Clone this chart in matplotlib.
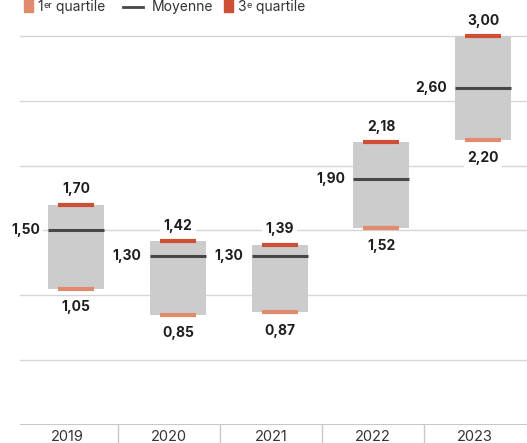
#!/usr/bin/env python3

import numpy as np
import matplotlib
matplotlib.use('Agg')
import matplotlib.pyplot as plt
from matplotlib.patches import Rectangle
from matplotlib.lines import Line2D

years = ['2019', '2020', '2021', '2022', '2023']
q1 = [1.05, 0.85, 0.87, 1.52, 2.20]
moyenne = [1.50, 1.30, 1.30, 1.90, 2.60]
q3 = [1.70, 1.42, 1.39, 2.18, 3.00]

C_BOX = '#cccccc'
C_MEAN = '#474747'
C_Q1 = '#e08b6d'
C_Q3 = '#cf4f35'
C_GRID = '#d6d6d6'


def fmt(v):
    return f'{v:.2f}'.replace('.', ',')


def sup_label(fig, x, y, base, sup, rest, W):
    # "1" + small raised "er" + " quartile"
    r = fig.canvas.get_renderer()
    t = fig.text(x, y, base, fontsize=10, va='baseline', color='#333333')
    w = t.get_window_extent(r).width / W
    s = fig.text(x + w + 0.5 / W, y + 3.5 / 443, sup, fontsize=6.5,
                 va='baseline', color='#333333')
    w2 = s.get_window_extent(r).width / W
    fig.text(x + w + w2 + 0.5 / W, y, rest, fontsize=10, va='baseline',
             color='#333333')


def main():
    plt.rcParams['font.family'] = ['Inter', 'DejaVu Sans']

    W, H = 527, 443
    fig = plt.figure(figsize=(W / 100, H / 100), dpi=100)
    ax = fig.add_axes([20 / W, 18 / H, 507 / W, 425 / H])
    ax.set_ylim(0, 425 / 129.7)
    ax.set_xlim(-0.467, 4.516)

    x = np.arange(len(years))
    xb = x + 0.085
    bw = 0.55
    qw = 0.355

    # grid
    for g in [0.5, 1.0, 1.5, 2.0, 2.5, 3.0]:
        ax.axhline(g, color=C_GRID, lw=1, zorder=0)
    ax.axhline(0, color='#c2c2c2', lw=1.3, zorder=0)
    for i in range(len(years) - 1):
        ax.plot([i + 0.5, i + 0.5], [0, -0.3], color='#c8c8c8', lw=1,
                clip_on=False, zorder=0)

    # boxes
    lo = np.array(q1)
    hi = np.array(q3)
    ax.bar(xb, hi - lo, bottom=lo, width=bw, color=C_BOX, zorder=2)
    ax.hlines(moyenne, xb - bw / 2, xb + bw / 2, color=C_MEAN, lw=2.2, zorder=3)
    ax.hlines(q1, xb - qw / 2, xb + qw / 2, color=C_Q1, lw=3, zorder=3)
    ax.hlines(q3, xb - qw / 2, xb + qw / 2, color=C_Q3, lw=3, zorder=3)

    box = dict(facecolor='white', edgecolor='none', pad=2.5)
    for i in range(len(years)):
        ax.annotate(fmt(q3[i]), (xb[i], q3[i]), xytext=(0, 11),
                    textcoords='offset points', ha='center', va='center',
                    fontsize=10, fontweight='bold', color='#1e1e1e',
                    bbox=box, zorder=4)
        ax.annotate(fmt(q1[i]), (xb[i], q1[i]), xytext=(0, -13.3),
                    textcoords='offset points', ha='center', va='center',
                    fontsize=10, fontweight='bold', color='#1e1e1e',
                    bbox=box, zorder=4)
        ax.annotate(fmt(moyenne[i]), (xb[i] - bw / 2, moyenne[i]),
                    xytext=(-6, 0), textcoords='offset points',
                    ha='right', va='center', fontsize=10, fontweight='bold',
                    color='#1e1e1e', bbox=box, zorder=4)

    ax.set_xticks(x, years)
    ax.tick_params(axis='x', length=0, pad=3.6, labelsize=10.5,
                   labelcolor='#333333')
    ax.set_yticks([])
    for s in ax.spines.values():
        s.set_visible(False)

    # legend at top (partly cut off, as in the source)
    yb = 1 - 11 / H
    fig.patches.append(Rectangle((24 / W, 1 - 12 / H), 9 / W, 16 / H,
                                 transform=fig.transFigure, color=C_Q1))
    sup_label(fig, 37 / W, yb, '1', 'er', ' quartile', W)
    fig.lines.append(Line2D([123 / W, 143 / W], [1 - 6.5 / H, 1 - 6.5 / H],
                            transform=fig.transFigure, color=C_MEAN, lw=2))
    fig.text(152 / W, yb, 'Moyenne', fontsize=10, va='baseline',
             color='#333333')
    fig.patches.append(Rectangle((224 / W, 1 - 12 / H), 9 / W, 16 / H,
                                 transform=fig.transFigure, color=C_Q3))
    sup_label(fig, 237 / W, yb, '3', 'e', ' quartile', W)

    fig.savefig('out.png', dpi=100)


if __name__ == '__main__':
    main()
